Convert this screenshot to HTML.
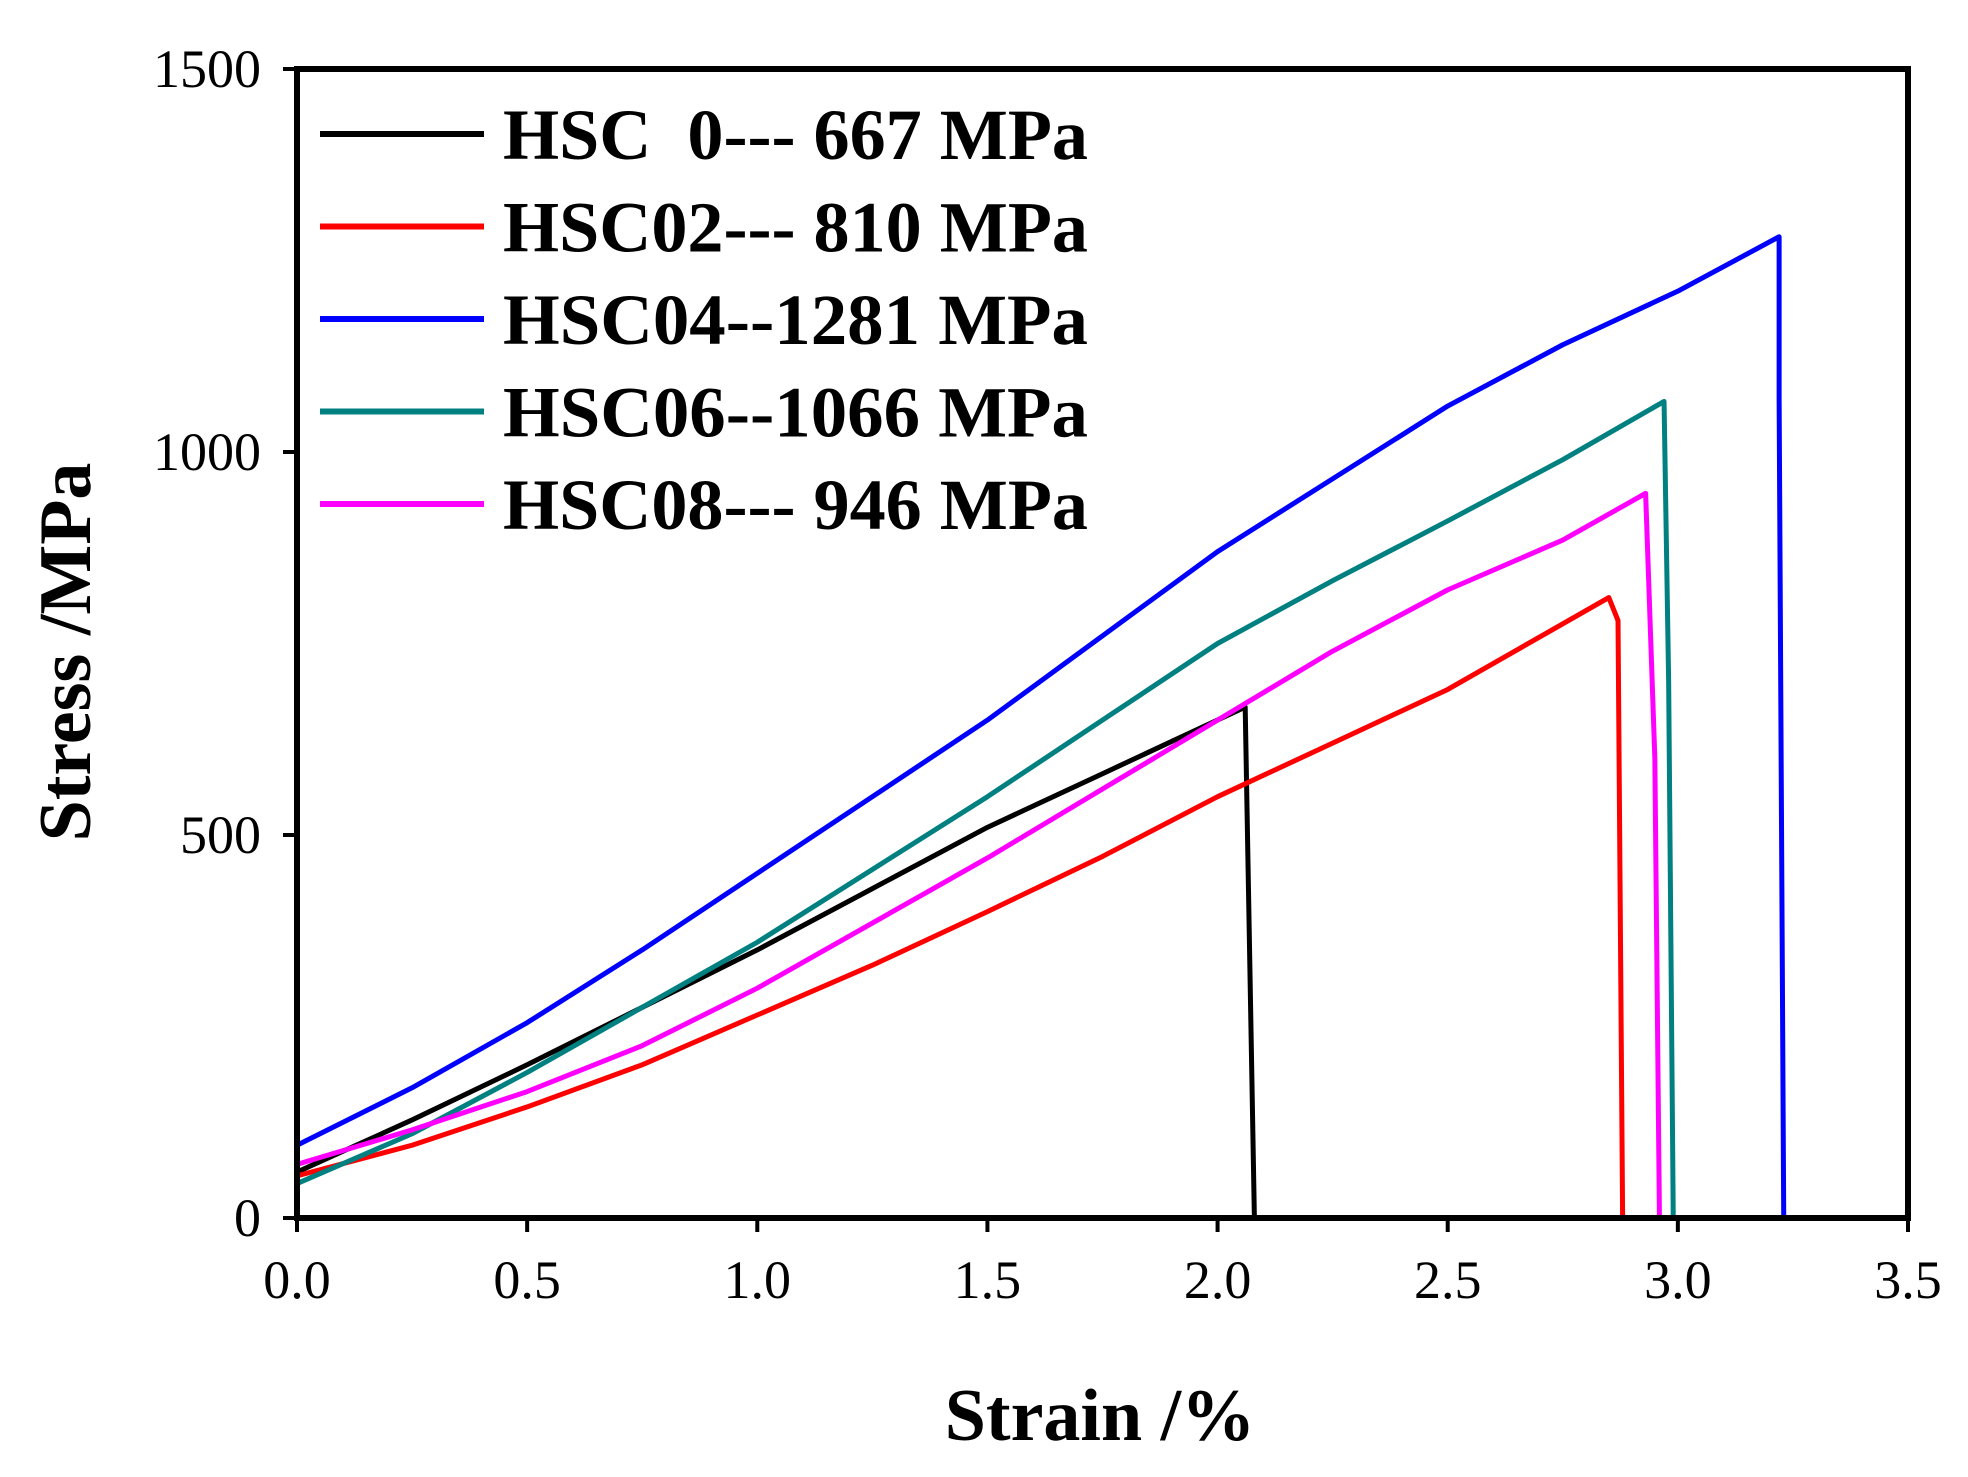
<!DOCTYPE html>
<html><head><meta charset="utf-8"><style>
body{margin:0;background:#fff}
svg text{font-family:"Liberation Serif",serif;white-space:pre}
</style></head><body>
<svg id="chart" width="1968" height="1472"></svg>
<script>
const xTicks=[0,0.5,1,1.5,2,2.5,3,3.5];
const xTickLabels=["0.0","0.5","1.0","1.5","2.0","2.5","3.0","3.5"];
const yTicks=[0,500,1000,1500];
const yTickLabels=["0","500","1000","1500"];
const seriesNames=["HSC  0--- 667 MPa","HSC02--- 810 MPa","HSC04--1281 MPa","HSC06--1066 MPa","HSC08--- 946 MPa"];
const seriesColors=["#000000","#ff0000","#0000ff","#008080","#ff00ff"];
const hsc0=[[0,60],[0.25,128],[0.5,200],[0.75,275],[1.0,350],[1.25,430],[1.5,510],[1.75,580],[2.06,667],[2.08,0]];
const hsc02=[[0,55],[0.25,95],[0.5,145],[0.75,200],[1.0,265],[1.25,330],[1.5,400],[1.75,472],[2.0,550],[2.25,620],[2.5,690],[2.85,810],[2.87,780],[2.88,0]];
const hsc04=[[0,95],[0.25,170],[0.5,255],[0.75,350],[1.0,450],[1.25,550],[1.5,650],[1.75,760],[2.0,870],[2.25,965],[2.5,1060],[2.75,1140],[3.0,1210],[3.22,1281],[3.22,1070],[3.23,0]];
const hsc06=[[0,45],[0.25,110],[0.5,190],[0.75,275],[1.0,360],[1.25,455],[1.5,550],[1.75,650],[2.0,750],[2.25,832],[2.5,910],[2.75,990],[2.97,1066],[2.98,700],[2.99,0]];
const hsc08=[[0,70],[0.25,115],[0.5,165],[0.75,225],[1.0,300],[1.25,385],[1.5,470],[1.75,560],[2.0,650],[2.25,740],[2.5,820],[2.75,885],[2.93,946],[2.95,600],[2.96,0]];
const allSeries=[hsc0,hsc02,hsc04,hsc06,hsc08];

const L=297,R=1908,T=69,B=1218;
const sx=v=>L+(v/3.5)*(R-L);
const sy=v=>B-(v/1500)*(B-T);
const svg=document.getElementById('chart');
const NS='http://www.w3.org/2000/svg';
function mk(tag,attrs,parent){const e=document.createElementNS(NS,tag);for(const k in attrs)e.setAttribute(k,attrs[k]);(parent||svg).appendChild(e);return e;}

allSeries.forEach((s,i)=>{
  const p=mk('polyline',{points:s.map(d=>sx(d[0])+','+sy(d[1])).join(' '),fill:'none',stroke:seriesColors[i],'stroke-width':5,'stroke-linejoin':'round'});
  
  
});

const frame=mk('rect',{x:L,y:T,width:R-L,height:B-T,fill:'none',stroke:'#000','stroke-width':6});



xTicks.forEach((v,i)=>{
  const t=mk('line',{x1:sx(v),x2:sx(v),y1:B,y2:B+14,stroke:'#000','stroke-width':4});
  
  
  const l=mk('text',{x:sx(v),y:B+80,'font-size':54,'text-anchor':'middle'});
  l.textContent=xTickLabels[i];
  
  
});
yTicks.forEach((v,i)=>{
  const t=mk('line',{x1:L-14,x2:L,y1:sy(v),y2:sy(v),stroke:'#000','stroke-width':4});
  
  
  const l=mk('text',{x:L-36,y:sy(v)+18,'font-size':54,'text-anchor':'end'});
  l.textContent=yTickLabels[i];
  
  
});

const xt=mk('text',{x:1100,y:1440,'font-size':74,'font-weight':'bold','text-anchor':'middle'});
xt.textContent='Strain /%';


const yt=mk('text',{x:0,y:0,'font-size':74,'font-weight':'bold','text-anchor':'middle',transform:'translate(90,652) rotate(-90)'});
yt.textContent='Stress /MPa';



seriesNames.forEach((n,i)=>{
  const y=134+i*92.5;
  const g=mk('g',{});
  
  
  mk('line',{x1:320,x2:484,y1:y,y2:y,stroke:seriesColors[i],'stroke-width':6},g);
  const t=mk('text',{x:503,y:y+25,'font-size':72,'font-weight':'bold',textLength:585,lengthAdjust:'spacingAndGlyphs'},g);
  t.textContent=n;
});
</script>
</body></html>
